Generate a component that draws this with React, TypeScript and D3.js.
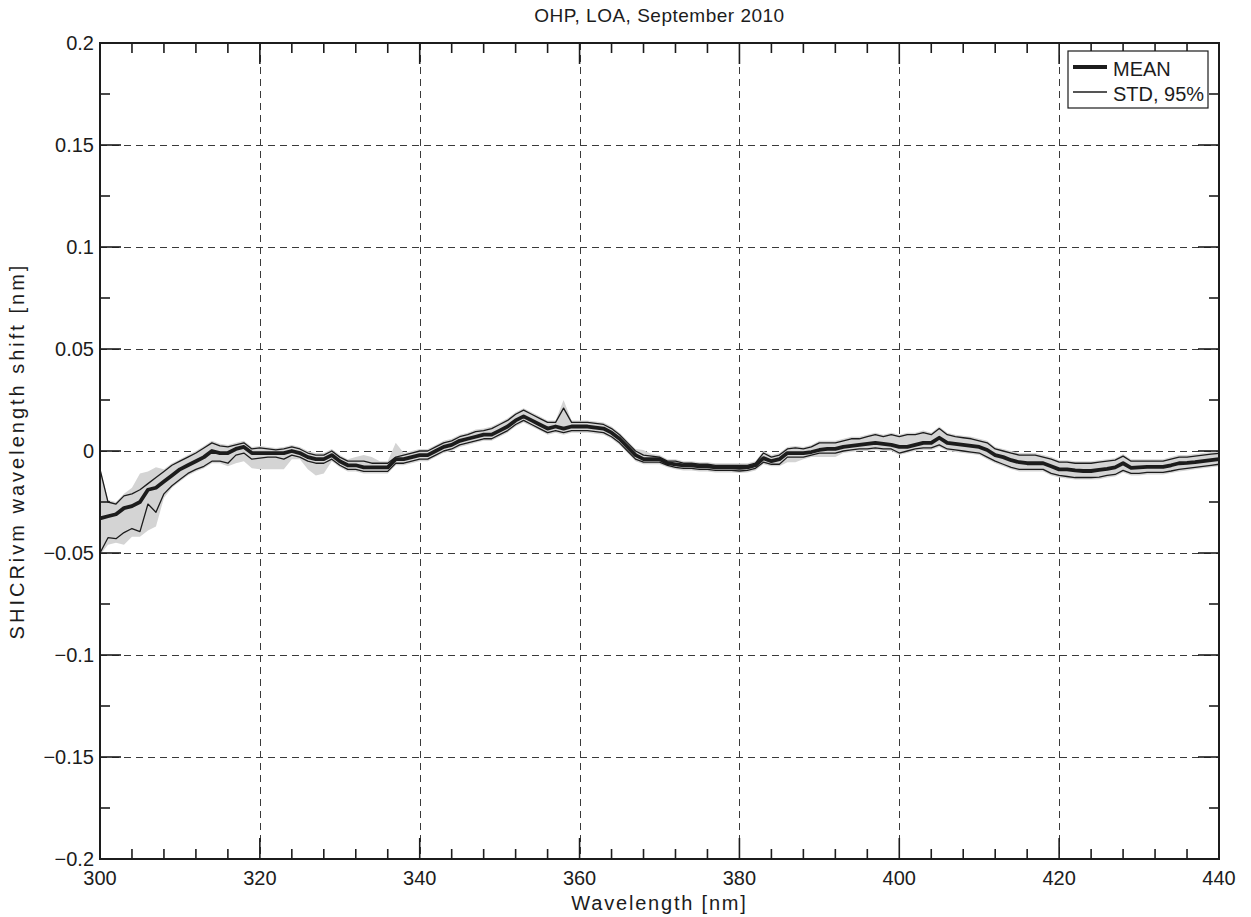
import React from 'react';
import * as d3 from 'd3';

// Wavelength grid starts at 300 nm, one sample per nm
const WL_START = 300;

// Mean wavelength shift [nm]
const meanShift = [
  -0.033, -0.032, -0.031, -0.028, -0.027, -0.025, -0.019, -0.018, -0.015, -0.012,
  -0.009, -0.007, -0.005, -0.003, 0.000, -0.001, -0.001, 0.001, 0.002, -0.001,
  -0.001, -0.001, -0.001, -0.001, 0.000, -0.001, -0.003, -0.004, -0.004, -0.002,
  -0.005, -0.007, -0.007, -0.008, -0.008, -0.008, -0.008, -0.004, -0.004, -0.003,
  -0.002, -0.002, 0.000, 0.002, 0.003, 0.005, 0.006, 0.007, 0.008, 0.008,
  0.010, 0.012, 0.015, 0.017, 0.015, 0.013, 0.011, 0.012, 0.011, 0.012,
  0.012, 0.012, 0.0115, 0.011, 0.009, 0.006, 0.002, -0.002, -0.004, -0.004,
  -0.004, -0.006, -0.0065, -0.007, -0.007, -0.0075, -0.0075, -0.008, -0.008, -0.008,
  -0.0083, -0.008, -0.007, -0.0035, -0.005, -0.004, -0.001, -0.001, -0.001, -0.0005,
  0.0005, 0.001, 0.001, 0.002, 0.0025, 0.003, 0.0035, 0.004, 0.0035, 0.003,
  0.002, 0.002, 0.003, 0.004, 0.004, 0.0065, 0.004, 0.0035, 0.003, 0.0025,
  0.002, 0.0005, -0.002, -0.003, -0.0045, -0.0055, -0.006, -0.006, -0.006, -0.0075,
  -0.009, -0.009, -0.0095, -0.0098, -0.0098, -0.0093, -0.0088, -0.008, -0.006, -0.0083,
  -0.008, -0.0078, -0.0078, -0.0078, -0.007, -0.006, -0.0058, -0.0055, -0.005, -0.0045,
  -0.004,
];

// Mean + one standard deviation
const stdUpper = [
  -0.009, -0.025, -0.026, -0.022, -0.021, -0.019, -0.016, -0.013, -0.010, -0.007,
  -0.005, -0.003, -0.001, 0.0015, 0.004, 0.0025, 0.002, 0.003, 0.004, 0.001,
  0.0015, 0.001, 0.0005, 0.001, 0.002, 0.001, -0.001, -0.002, -0.002, 0.000,
  -0.003, -0.005, -0.005, -0.005, -0.006, -0.006, -0.006, -0.003, -0.002, -0.001,
  0.000, 0.000, 0.002, 0.004, 0.005, 0.007, 0.008, 0.0095, 0.010, 0.011,
  0.013, 0.015, 0.018, 0.020, 0.018, 0.016, 0.014, 0.014, 0.021, 0.014,
  0.014, 0.014, 0.0135, 0.013, 0.011, 0.008, 0.004, 0.000, -0.002, -0.0025,
  -0.003, -0.005, -0.005, -0.006, -0.006, -0.0065, -0.0065, -0.007, -0.007, -0.007,
  -0.007, -0.007, -0.006, -0.001, -0.003, -0.002, 0.001, 0.0015, 0.001, 0.002,
  0.004, 0.004, 0.004, 0.005, 0.006, 0.006, 0.007, 0.008, 0.007, 0.008,
  0.007, 0.008, 0.008, 0.009, 0.008, 0.011, 0.008, 0.007, 0.0065, 0.006,
  0.005, 0.004, 0.001, 0.000, -0.001, -0.002, -0.002, -0.002, -0.003, -0.004,
  -0.0055, -0.0055, -0.006, -0.006, -0.006, -0.0055, -0.005, -0.0045, -0.0025, -0.005,
  -0.005, -0.005, -0.005, -0.005, -0.004, -0.003, -0.003, -0.0025, -0.002, -0.0015,
  -0.0012,
];

// Mean - one standard deviation
const stdLower = [
  -0.050, -0.0425, -0.043, -0.040, -0.038, -0.0395, -0.026, -0.030, -0.021, -0.017,
  -0.014, -0.011, -0.009, -0.0075, -0.005, -0.005, -0.006, -0.002, -0.001, -0.004,
  -0.0035, -0.003, -0.003, -0.004, -0.002, -0.003, -0.005, -0.006, -0.006, -0.004,
  -0.007, -0.009, -0.009, -0.010, -0.010, -0.010, -0.010, -0.006, -0.006, -0.005,
  -0.004, -0.004, -0.002, 0.000, 0.001, 0.003, 0.004, 0.005, 0.006, 0.006,
  0.008, 0.010, 0.013, 0.015, 0.013, 0.011, 0.009, 0.010, 0.009, 0.010,
  0.010, 0.010, 0.0095, 0.009, 0.007, 0.004, 0.000, -0.004, -0.0055, -0.0055,
  -0.0055, -0.007, -0.008, -0.0085, -0.0085, -0.009, -0.009, -0.0095, -0.0095, -0.0095,
  -0.0098, -0.0095, -0.0085, -0.0055, -0.0065, -0.0065, -0.003, -0.003, -0.003, -0.002,
  -0.001, -0.001, -0.001, 0.000, 0.0005, 0.001, 0.001, 0.0015, 0.001, 0.001,
  -0.001, 0.000, 0.001, 0.0015, 0.0015, 0.003, 0.001, 0.0005, 0.000, -0.0005,
  -0.001, -0.003, -0.005, -0.0065, -0.008, -0.009, -0.009, -0.009, -0.009, -0.011,
  -0.012, -0.0125, -0.013, -0.013, -0.013, -0.0128, -0.012, -0.0115, -0.0095, -0.011,
  -0.011, -0.0105, -0.0105, -0.0105, -0.0098, -0.009, -0.0085, -0.008, -0.0075, -0.007,
  -0.0065,
];

// Upper edge of the 95% interval
const band95High = [
  -0.008, -0.024, -0.025, -0.021, -0.018, -0.011, -0.010, -0.008, -0.009, -0.006,
  -0.004, -0.002, 0.000, 0.0025, 0.005, 0.0035, 0.003, 0.004, 0.005, 0.002,
  0.0025, 0.002, 0.0015, 0.002, 0.003, 0.002, 0.000, -0.001, -0.001, 0.001,
  -0.002, -0.004, -0.003, -0.002, -0.003, -0.005, -0.005, 0.004, -0.001, 0.000,
  0.001, 0.001, 0.003, 0.005, 0.006, 0.008, 0.009, 0.0105, 0.011, 0.012,
  0.014, 0.016, 0.019, 0.021, 0.019, 0.017, 0.015, 0.015, 0.025, 0.015,
  0.015, 0.015, 0.0145, 0.014, 0.012, 0.009, 0.005, 0.001, 0.0005, -0.0015,
  -0.002, -0.004, -0.004, -0.005, -0.005, -0.0055, -0.0055, -0.006, -0.006, -0.006,
  -0.006, -0.006, -0.005, 0.000, -0.002, -0.001, 0.002, 0.0025, 0.002, 0.003,
  0.005, 0.005, 0.005, 0.006, 0.007, 0.007, 0.008, 0.009, 0.008, 0.009,
  0.008, 0.009, 0.009, 0.010, 0.009, 0.012, 0.009, 0.008, 0.0075, 0.007,
  0.006, 0.005, 0.002, 0.001, 0.000, -0.001, -0.001, -0.001, -0.002, -0.003,
  -0.0045, -0.0045, -0.005, -0.005, -0.005, -0.0045, -0.004, -0.0035, -0.0015, -0.004,
  -0.004, -0.004, -0.004, -0.004, -0.003, -0.002, -0.002, -0.0015, -0.001, -0.0005,
  -0.0002,
];

// Lower edge of the 95% interval
const band95Low = [
  -0.051, -0.046, -0.045, -0.046, -0.042, -0.042, -0.039, -0.037, -0.023, -0.018,
  -0.015, -0.012, -0.010, -0.0085, -0.006, -0.006, -0.0075, -0.006, -0.005, -0.0085,
  -0.009, -0.009, -0.009, -0.009, -0.004, -0.004, -0.009, -0.012, -0.011, -0.005,
  -0.008, -0.010, -0.010, -0.011, -0.011, -0.011, -0.011, -0.007, -0.007, -0.006,
  -0.005, -0.005, -0.003, -0.001, 0.000, 0.002, 0.003, 0.004, 0.005, 0.005,
  0.007, 0.009, 0.012, 0.014, 0.012, 0.010, 0.008, 0.009, 0.008, 0.009,
  0.009, 0.009, 0.0085, 0.008, 0.006, 0.003, -0.001, -0.005, -0.0065, -0.0065,
  -0.0065, -0.008, -0.009, -0.0095, -0.0095, -0.010, -0.010, -0.0105, -0.0105, -0.0105,
  -0.0108, -0.0105, -0.0095, -0.0065, -0.0075, -0.0075, -0.0055, -0.0055, -0.004, -0.003,
  -0.003, -0.003, -0.003, -0.001, -0.0005, 0.000, 0.000, 0.0005, 0.000, 0.000,
  -0.002, -0.001, 0.000, 0.0005, 0.0005, 0.002, 0.000, -0.0005, -0.001, -0.0015,
  -0.002, -0.004, -0.006, -0.0075, -0.009, -0.010, -0.010, -0.010, -0.010, -0.012,
  -0.013, -0.0135, -0.014, -0.014, -0.014, -0.0138, -0.013, -0.0125, -0.0105, -0.012,
  -0.012, -0.0115, -0.0115, -0.0115, -0.0108, -0.010, -0.0095, -0.009, -0.0085, -0.008,
  -0.0075,
];

const xMajorTicks = [300, 320, 340, 360, 380, 400, 420, 440];
const xMinorTicks = [
  304, 308, 312, 316, 324, 328, 332, 336, 344, 348, 352, 356, 364, 368, 372, 376,
  384, 388, 392, 396, 404, 408, 412, 416, 424, 428, 432, 436,
];
const yMajorTicks = [-0.2, -0.15, -0.1, -0.05, 0, 0.05, 0.1, 0.15, 0.2];
const yTickLabels = ['\u22120.2', '\u22120.15', '\u22120.1', '\u22120.05', '0', '0.05', '0.1', '0.15', '0.2'];
const yMinorTicks = [-0.175, -0.125, -0.075, -0.025, 0.025, 0.075, 0.125, 0.175];

const TITLE = 'OHP, LOA, September 2010';
const X_LABEL = 'Wavelength [nm]';
const Y_LABEL = 'SHICRivm wavelength shift [nm]';
const LEGEND_ITEMS = [
  { label: 'MEAN', width: 3.8 },
  { label: 'STD, 95%', width: 1.3 },
];

const W = 1251;
const H = 917;
const LEFT = 100;
const RIGHT = 1219;
const TOP = 43;
const BOTTOM = 859;
const MAJOR_LEN = 21;
const MINOR_LEN = 10;
const FONT = "'Liberation Sans', Arial, sans-serif";
const INK = '#1c1c1c';

export default function App() {
  const x = d3.scaleLinear().domain([300, 440]).range([LEFT, RIGHT]);
  const y = d3.scaleLinear().domain([-0.2, 0.2]).range([BOTTOM, TOP]);
  const wl = (i: number) => WL_START + i;

  const line = d3
    .line<number>()
    .x((_, i) => x(wl(i)))
    .y((d) => y(d));

  const idx = meanShift.map((_, i) => i);
  const band = d3
    .area<number>()
    .x((i) => x(wl(i)))
    .y0((i) => y(Math.min(band95Low[i], stdLower[i])))
    .y1((i) => y(Math.max(band95High[i], stdUpper[i])));

  return (
    <svg
      width={W}
      height={H}
      viewBox={`0 0 ${W} ${H}`}
      style={{ position: 'absolute', left: 0, top: 0, background: '#fff' }}
      fontFamily={FONT}
    >
      <rect x={0} y={0} width={W} height={H} fill="#fff" />

      {/* grid */}
      <g stroke="#3a3a3a" strokeWidth={1} strokeDasharray="7,5" fill="none">
        {xMajorTicks.slice(1, -1).map((t) => (
          <line key={`gx${t}`} x1={Math.round(x(t)) + 0.5} x2={Math.round(x(t)) + 0.5} y1={TOP} y2={BOTTOM} />
        ))}
        {yMajorTicks.slice(1, -1).map((t) => (
          <line key={`gy${t}`} x1={LEFT} x2={RIGHT} y1={Math.round(y(t)) + 0.5} y2={Math.round(y(t)) + 0.5} />
        ))}
      </g>

      {/* 95% band */}
      <path d={band(idx) || ''} fill="#d4d4d4" stroke="none" />

      {/* std lines and mean */}
      <path d={line(stdUpper) || ''} fill="none" stroke={INK} strokeWidth={1.3} strokeLinejoin="round" />
      <path d={line(stdLower) || ''} fill="none" stroke={INK} strokeWidth={1.3} strokeLinejoin="round" />
      <path d={line(meanShift) || ''} fill="none" stroke={INK} strokeWidth={3.8} strokeLinejoin="round" />

      {/* ticks */}
      <g stroke={INK} strokeWidth={1.6}>
        {xMajorTicks.map((t) => (
          <g key={`tx${t}`}>
            <line x1={x(t)} x2={x(t)} y1={BOTTOM} y2={BOTTOM - MAJOR_LEN} />
            <line x1={x(t)} x2={x(t)} y1={TOP} y2={TOP + MAJOR_LEN} />
          </g>
        ))}
        {xMinorTicks.map((t) => (
          <g key={`mx${t}`}>
            <line x1={x(t)} x2={x(t)} y1={BOTTOM} y2={BOTTOM - MINOR_LEN} />
            <line x1={x(t)} x2={x(t)} y1={TOP} y2={TOP + MINOR_LEN} />
          </g>
        ))}
        {yMajorTicks.map((t) => (
          <g key={`ty${t}`}>
            <line x1={LEFT} x2={LEFT + MAJOR_LEN} y1={y(t)} y2={y(t)} />
            <line x1={RIGHT} x2={RIGHT - MAJOR_LEN} y1={y(t)} y2={y(t)} />
          </g>
        ))}
        {yMinorTicks.map((t) => (
          <g key={`my${t}`}>
            <line x1={LEFT} x2={LEFT + MINOR_LEN} y1={y(t)} y2={y(t)} />
            <line x1={RIGHT} x2={RIGHT - MINOR_LEN} y1={y(t)} y2={y(t)} />
          </g>
        ))}
      </g>

      {/* axes box */}
      <rect x={LEFT} y={TOP} width={RIGHT - LEFT} height={BOTTOM - TOP} fill="none" stroke={INK} strokeWidth={2} />

      {/* tick labels */}
      <g fill={INK} fontSize={20}>
        {xMajorTicks.map((t) => (
          <text key={`lx${t}`} x={x(t)} y={BOTTOM + 26} textAnchor="middle">
            {t}
          </text>
        ))}
        {yMajorTicks.map((t, i) => (
          <text key={`ly${t}`} x={LEFT - 6} y={y(t) + 7} textAnchor="end">
            {yTickLabels[i]}
          </text>
        ))}
      </g>

      {/* title and axis labels */}
      <text x={(LEFT + RIGHT) / 2} y={22} textAnchor="middle" fontSize={19} letterSpacing={0.5} fill={INK}>
        {TITLE}
      </text>
      <text
        x={(LEFT + RIGHT) / 2}
        y={910}
        textAnchor="middle"
        fontSize={20}
        letterSpacing={1.8}
        fill={INK}
      >
        {X_LABEL}
      </text>
      <text
        transform={`translate(24, ${(TOP + BOTTOM) / 2}) rotate(-90)`}
        textAnchor="middle"
        fontSize={20}
        letterSpacing={3}
        fill={INK}
      >
        {Y_LABEL}
      </text>

      {/* legend */}
      <g>
        <rect x={1068} y={51} width={140} height={57} fill="#fff" stroke={INK} strokeWidth={1.2} />
        {LEGEND_ITEMS.map((item, i) => (
          <g key={item.label}>
            <line
              x1={1073}
              x2={1107}
              y1={67 + i * 25}
              y2={67 + i * 25}
              stroke={INK}
              strokeWidth={item.width}
            />
            <text x={1113} y={76 + i * 25} fontSize={20} fill={INK}>
              {item.label}
            </text>
          </g>
        ))}
      </g>
    </svg>
  );
}
